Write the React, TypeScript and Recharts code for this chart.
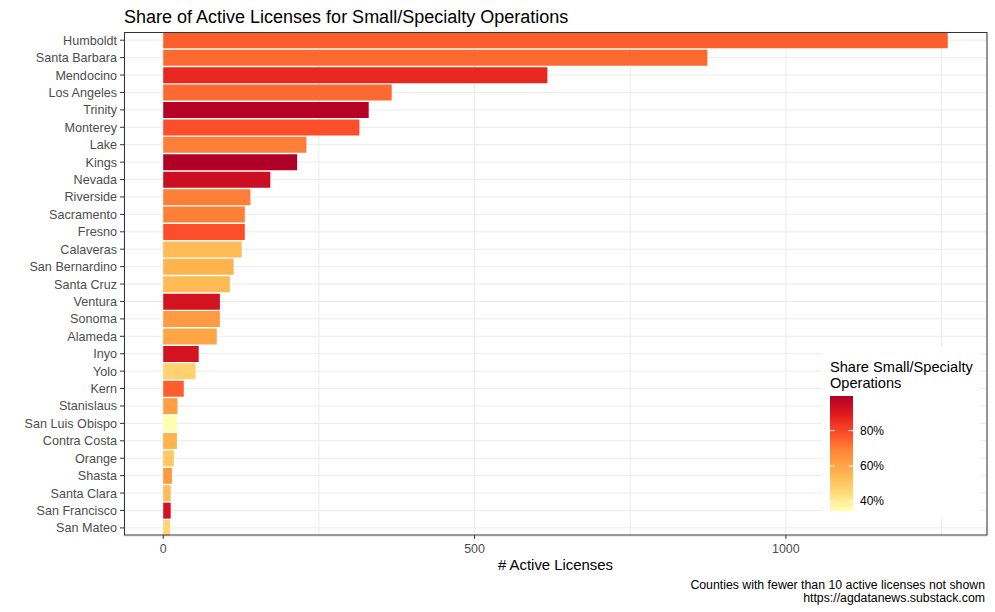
import React from 'react';
import { BarChart, Bar, XAxis, YAxis, CartesianGrid, Cell } from 'recharts';

const counties = ['Humboldt', 'Santa Barbara', 'Mendocino', 'Los Angeles', 'Trinity', 'Monterey', 'Lake', 'Kings', 'Nevada', 'Riverside', 'Sacramento', 'Fresno', 'Calaveras', 'San Bernardino', 'Santa Cruz', 'Ventura', 'Sonoma', 'Alameda', 'Inyo', 'Yolo', 'Kern', 'Stanislaus', 'San Luis Obispo', 'Contra Costa', 'Orange', 'Shasta', 'Santa Clara', 'San Francisco', 'San Mateo'];
const licenses = [1260, 874, 617, 367, 330, 315, 230, 215, 172, 140, 131, 131, 126, 113, 107, 91, 91, 86, 57, 52, 33, 23, 22, 22, 17, 14, 12, 12, 11];
const sharePct = [75.5, 73.6, 86.7, 73.5, 98.7, 78, 69.8, 99.6, 94, 70, 69.5, 78, 53.7, 56, 54, 92, 62.9, 60, 92, 47.3, 75.5, 62, 34.5, 56, 50, 63.7, 53.7, 92, 45.8];

const gridTicks = [0, 250, 500, 750, 1000, 1250];
const majorTicks = [0, 500, 1000];
const xDomain = [-63, 1323];
const legendTicks = [40, 60, 80];
const palette = ['#FFFFB2', '#FED976', '#FEB24C', '#FD8D3C', '#FC4E2A', '#E31A1C', '#B10026'];

const title = 'Share of Active Licenses for Small/Specialty Operations';
const xTitle = '# Active Licenses';
const captionLines = ['Counties with fewer than 10 active licenses not shown', 'https://agdatanews.substack.com'];
const legendTitle = ['Share Small/Specialty', 'Operations'];

const FONT = '"Liberation Sans", Arial, sans-serif';

// ---- Lab colour interpolation (like ggplot's gradient_n_pal) ----
const WHITE = [0.95047, 1, 1.08883];
function hexToRgb(h: string) {
  return [parseInt(h.slice(1, 3), 16), parseInt(h.slice(3, 5), 16), parseInt(h.slice(5, 7), 16)];
}
function toLin(c: number) { c /= 255; return c <= 0.04045 ? c / 12.92 : Math.pow((c + 0.055) / 1.055, 2.4); }
function fromLin(c: number) { const v = c <= 0.0031308 ? 12.92 * c : 1.055 * Math.pow(c, 1 / 2.4) - 0.055; return Math.max(0, Math.min(255, Math.round(v * 255))); }
function f(t: number) { return t > 0.008856 ? Math.cbrt(t) : 7.787 * t + 16 / 116; }
function finv(t: number) { return t * t * t > 0.008856 ? t * t * t : (t - 16 / 116) / 7.787; }
function hexToLab(h: string) {
  const [r, g, b] = hexToRgb(h).map(toLin);
  const X = (0.4124 * r + 0.3576 * g + 0.1805 * b) / WHITE[0];
  const Y = (0.2126 * r + 0.7152 * g + 0.0722 * b) / WHITE[1];
  const Z = (0.0193 * r + 0.1192 * g + 0.9505 * b) / WHITE[2];
  const fx = f(X), fy = f(Y), fz = f(Z);
  return [116 * fy - 16, 500 * (fx - fy), 200 * (fy - fz)];
}
function labToHex([L, a, bb]: number[]) {
  const fy = (L + 16) / 116, fx = fy + a / 500, fz = fy - bb / 200;
  const X = finv(fx) * WHITE[0], Y = finv(fy) * WHITE[1], Z = finv(fz) * WHITE[2];
  const r = 3.2406 * X - 1.5372 * Y - 0.4986 * Z;
  const g = -0.9689 * X + 1.8758 * Y + 0.0415 * Z;
  const b = 0.0557 * X - 0.204 * Y + 1.057 * Z;
  return '#' + [r, g, b].map(fromLin).map((v) => v.toString(16).padStart(2, '0')).join('');
}
const paletteLab = palette.map(hexToLab);
const sMin = Math.min(...sharePct);
const sMax = Math.max(...sharePct);
function colorFor(v: number) {
  const t = Math.max(0, Math.min(1, (v - sMin) / (sMax - sMin)));
  const pos = t * (paletteLab.length - 1);
  const i = Math.min(paletteLab.length - 2, Math.floor(pos));
  const u = pos - i;
  const A = paletteLab[i], B = paletteLab[i + 1];
  return labToHex([A[0] + (B[0] - A[0]) * u, A[1] + (B[1] - A[1]) * u, A[2] + (B[2] - A[2]) * u]);
}

const rows = counties.map((county, i) => ({ county, licenses: licenses[i], share: sharePct[i] }));

const XTick = (props: any) => {
  const { x, y, payload } = props;
  if (!majorTicks.includes(payload.value)) return <g />;
  return (
    <g>
      <line x1={x} x2={x} y1={y - 1.4} y2={y + 2.3} stroke="#333333" strokeWidth={1} />
      <text x={x} y={y + 16} textAnchor="middle" fill="#4D4D4D" fontSize={12.4} fontFamily={FONT}>{payload.value}</text>
    </g>
  );
};

// legend geometry
const LG = { boxX: 822, boxY: 347, boxW: 158, boxH: 171, barX: 830, barY: 396, barW: 23, barH: 115 };
const gradStops = Array.from({ length: 41 }, (_, k) => k / 40);

export default function App() {
  const legendY = (v: number) => LG.barY + LG.barH - ((v - sMin) / (sMax - sMin)) * LG.barH;
  return (
    <div style={{ position: 'absolute', left: 0, top: 0, width: 995, height: 612, background: '#ffffff', fontFamily: FONT }}>
      <BarChart
        width={995}
        height={612}
        data={rows}
        layout="vertical"
        margin={{ top: 31.5, right: 8, bottom: 55.4, left: 0 }}
        barCategoryGap="5%"
      >
        <CartesianGrid stroke="#EBEBEB" strokeWidth={1} />
        <XAxis
          type="number"
          dataKey="licenses"
          domain={xDomain}
          allowDataOverflow
          ticks={gridTicks}
          interval={0}
          height={20}
          tickSize={0}
          tickMargin={0}
          tickLine={false}
          axisLine={false}
          tick={<XTick />}
        />
        <YAxis
          type="category"
          dataKey="county"
          width={124}
          interval={0}
          axisLine={false}
          tickLine={{ stroke: '#333333' }}
          tickSize={4}
          tickMargin={3}
          tick={{ fill: '#4D4D4D', fontSize: 12.6, fontFamily: FONT }}
        />
        <Bar dataKey="licenses" isAnimationActive={false}>
          {rows.map((r) => (
            <Cell key={r.county} fill={colorFor(r.share)} />
          ))}
        </Bar>
      </BarChart>
      <svg width={995} height={612} style={{ position: 'absolute', left: 0, top: 0, pointerEvents: 'none' }}>
        <defs>
          <linearGradient id="legGrad" x1="0" y1="1" x2="0" y2="0">
            {gradStops.map((t) => (
              <stop key={t} offset={t} stopColor={colorFor(sMin + t * (sMax - sMin))} />
            ))}
          </linearGradient>
        </defs>
        <rect x={124} y={0} width={870} height={32} fill="#ffffff" />
        <rect x={124.5} y={32.5} width={862.5} height={502.5} fill="none" stroke="#333333" strokeWidth={1} />
        <text x={124} y={22.5} fontSize={18} fill="#000000" fontFamily={FONT}>{title}</text>
        <text x={555.5} y={570} fontSize={14.9} fill="#000000" textAnchor="middle" fontFamily={FONT}>{xTitle}</text>
        {captionLines.map((c, i) => (
          <text key={c} x={985} y={589 + i * 13.2} fontSize={12.3} fill="#000000" textAnchor="end" fontFamily={FONT}>{c}</text>
        ))}
        <rect x={LG.boxX} y={LG.boxY} width={LG.boxW} height={LG.boxH} fill="#ffffff" />
        {legendTitle.map((t, i) => (
          <text key={t} x={830} y={372 + i * 16.2} fontSize={14.6} fill="#000000" fontFamily={FONT}>{t}</text>
        ))}
        <rect x={LG.barX} y={LG.barY} width={LG.barW} height={LG.barH} fill="url(#legGrad)" />
        {legendTicks.map((v) => {
          const y = legendY(v);
          return (
            <g key={v}>
              <line x1={LG.barX} x2={LG.barX + LG.barW / 5} y1={y} y2={y} stroke="#ffffff" strokeWidth={1} />
              <line x1={LG.barX + LG.barW * 0.8} x2={LG.barX + LG.barW} y1={y} y2={y} stroke="#ffffff" strokeWidth={1} />
              <text x={860} y={y + 4.2} fontSize={12} fill="#000000" fontFamily={FONT}>{v}%</text>
            </g>
          );
        })}
      </svg>
    </div>
  );
}
